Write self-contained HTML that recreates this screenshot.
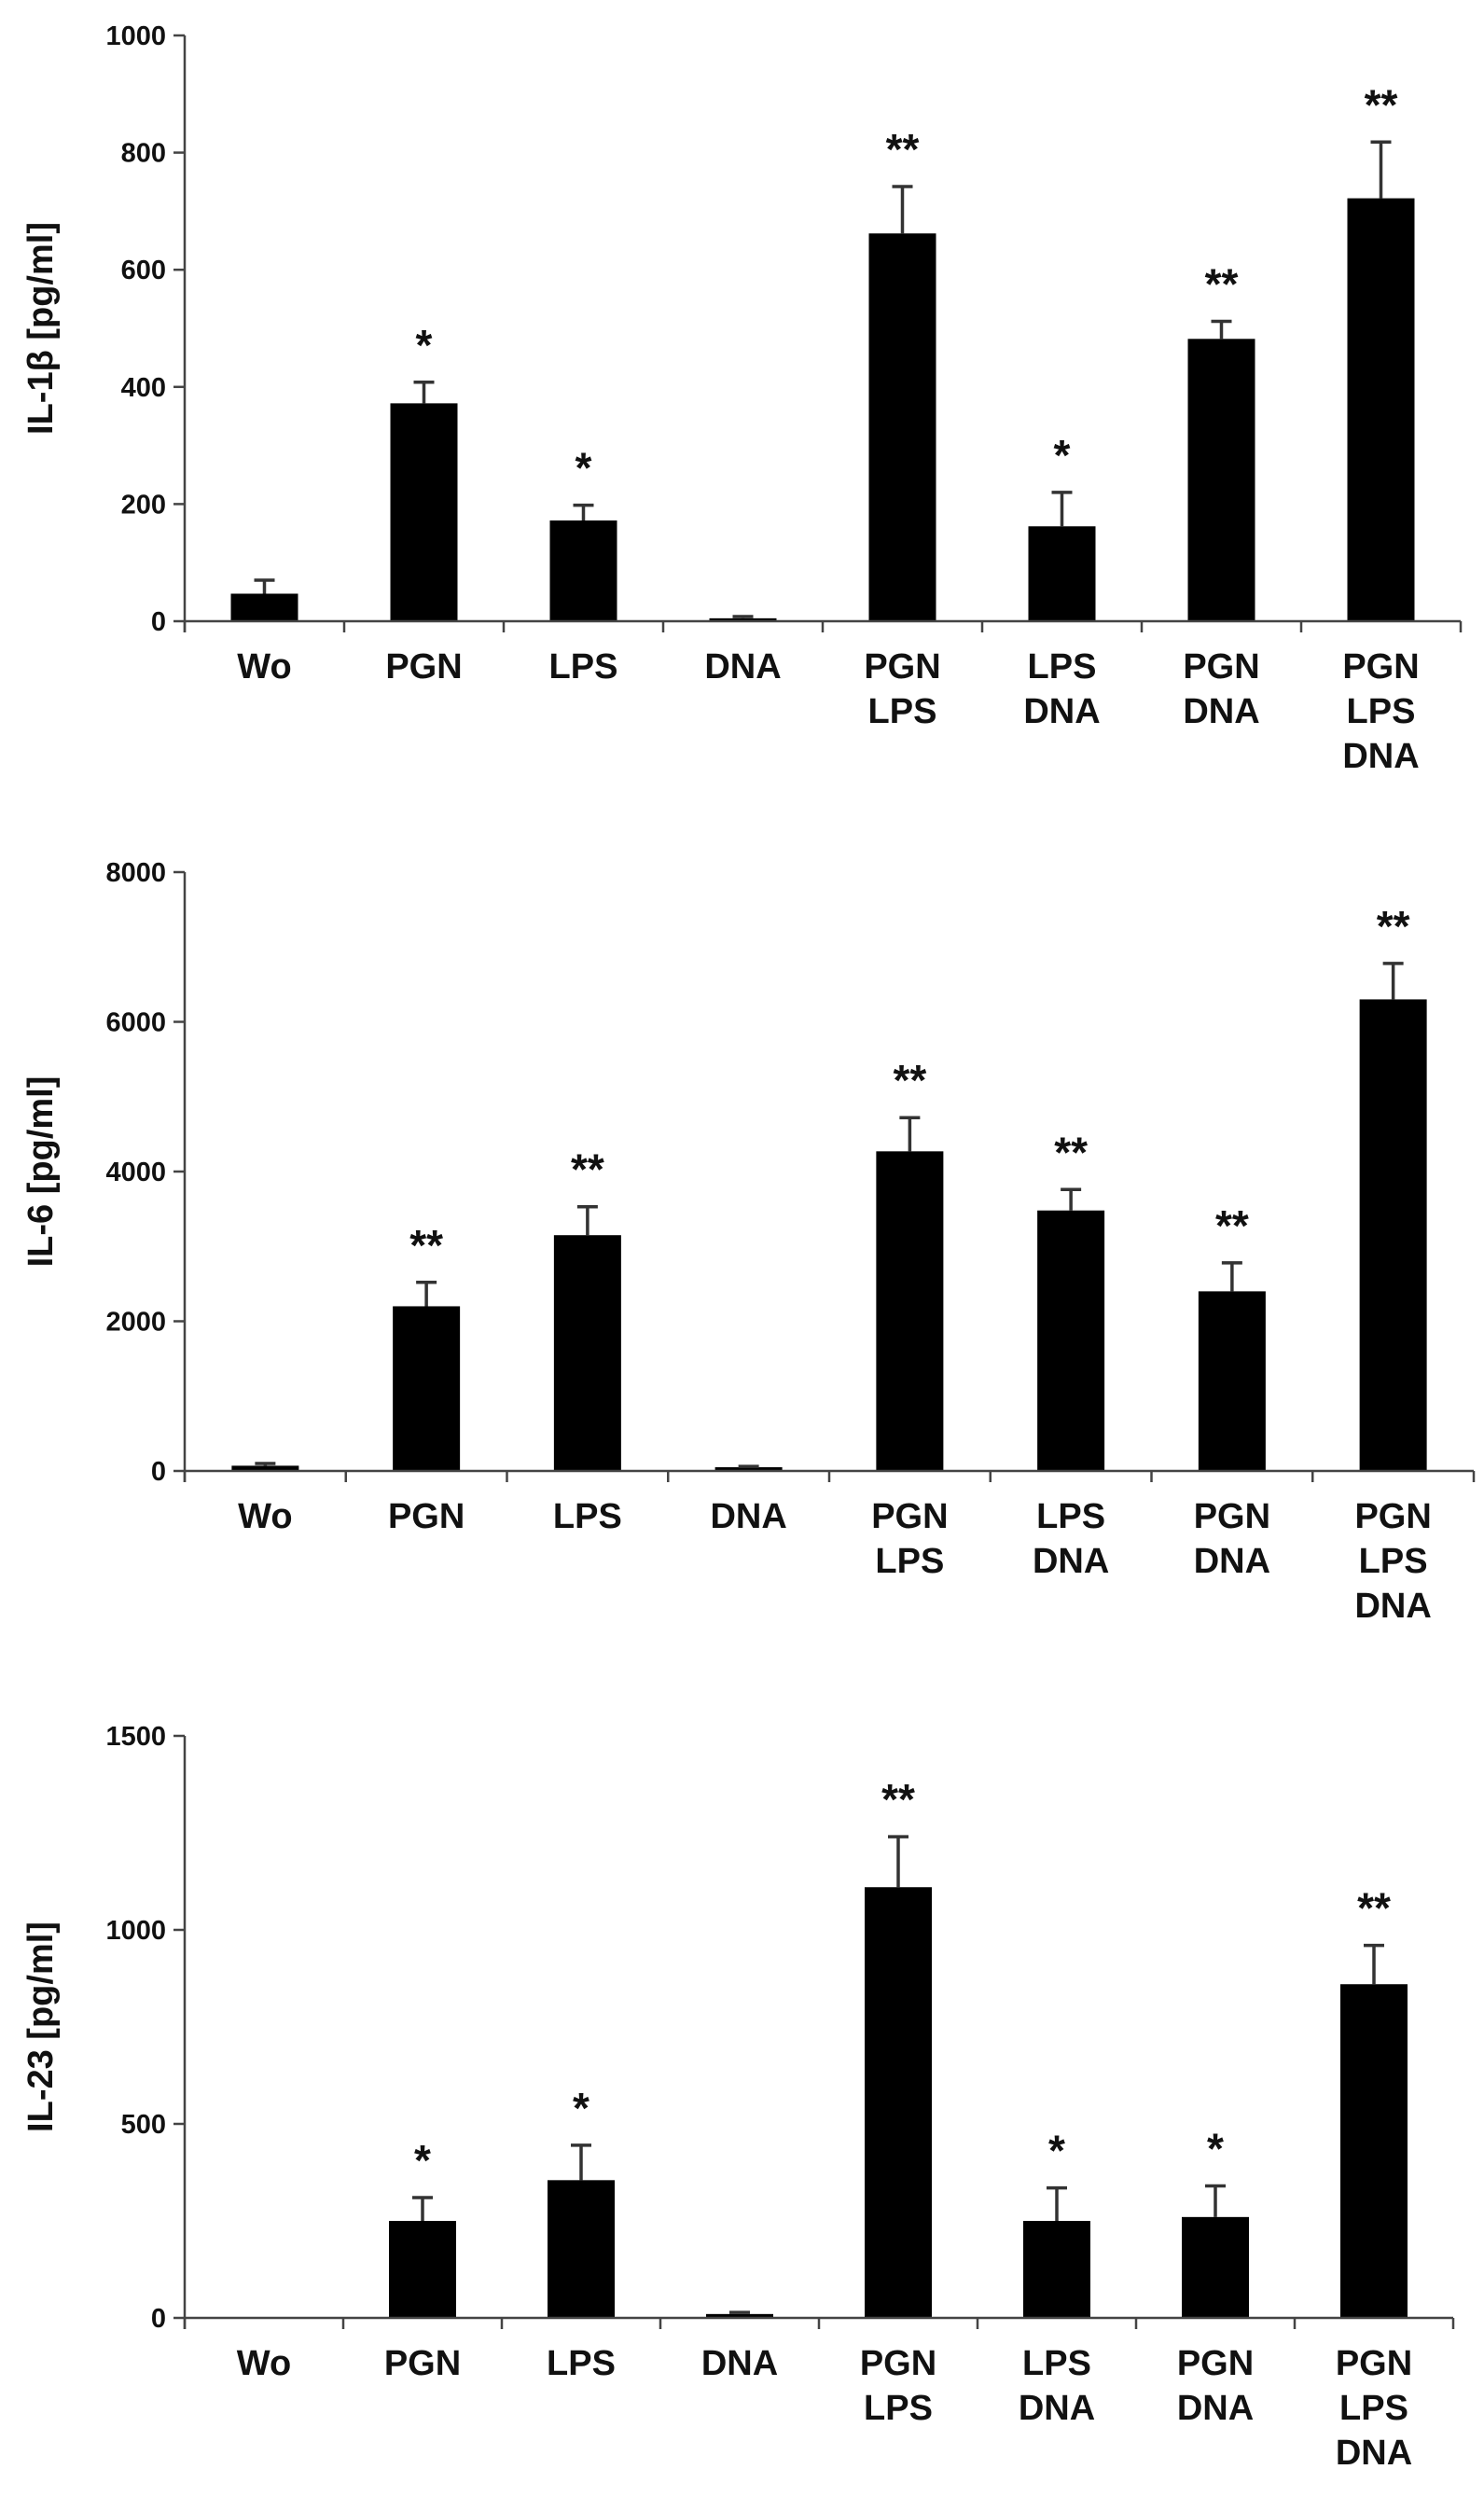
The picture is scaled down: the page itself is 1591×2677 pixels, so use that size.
<!DOCTYPE html>
<html><head><meta charset="utf-8"><style>
html,body{margin:0;padding:0;background:#fff;}
svg{display:block;}
text{font-family:"Liberation Sans",Arial,sans-serif;font-weight:bold;fill:#111;}
</style></head>
<body>
<svg id="fig" width="1591" height="2677" viewBox="0 0 1591 2677" xmlns="http://www.w3.org/2000/svg"></svg>
<script>
const categories = [["Wo"],["PGN"],["LPS"],["DNA"],["PGN","LPS"],["LPS","DNA"],["PGN","DNA"],["PGN","LPS","DNA"]];
const il1bValues = [47,372,172,5,662,162,482,722];
const il1bErrors = [70,408,198,8,742,220,512,818];
const il1bStars = ["","*","*","","**","*","**","**"];
const il1bTicks = [0,200,400,600,800,1000];
const il6Values = [70,2200,3150,50,4270,3480,2400,6300];
const il6Errors = [100,2520,3530,60,4720,3760,2780,6780];
const il6Stars = ["","**","**","","**","**","**","**"];
const il6Ticks = [0,2000,4000,6000,8000];
const il23Values = [0,250,355,10,1110,250,260,860];
const il23Errors = [0,310,445,14,1240,335,340,960];
const il23Stars = ["","*","*","","**","*","*","**"];
const il23Ticks = [0,500,1000,1500];

const svg = document.getElementById('fig');
const NS = 'http://www.w3.org/2000/svg';
function mk(tag, attrs, parent){
  const e = document.createElementNS(NS, tag);
  for (const k in attrs) e.setAttribute(k, attrs[k]);
  (parent||svg).appendChild(e);
  return e;
}

function chart(cfg){
  const g = mk('g', {});
  
  
  const max = cfg.ticks[cfg.ticks.length-1];
  const y = v => cfg.y0 - (v/max)*(cfg.y0-cfg.yTop);
  const band = (cfg.x1-cfg.x0)/categories.length;
  const x = i => cfg.x0 + band*(i+0.5);
  const ya = mk('line', {x1:cfg.x0,y1:cfg.yTop,x2:cfg.x0,y2:cfg.y0+12,stroke:'#444','stroke-width':2.5}, g);
  
  
  cfg.ticks.forEach(t=>{
    mk('line', {x1:cfg.x0-12,y1:y(t),x2:cfg.x0,y2:y(t),stroke:'#444','stroke-width':2.5}, g);
    const tl = mk('text', {x:cfg.x0-20,y:y(t)+10,'text-anchor':'end','font-size':29}, g);
    tl.textContent = t;
    
    
  });
  const yt = mk('text', {x:0,y:0,'text-anchor':'middle','font-size':38,transform:`translate(56,${(cfg.y0+cfg.yTop)/2}) rotate(-90)`}, g);
  yt.textContent = cfg.title;
  
  
  const bw = 72;
  cfg.values.forEach((v,i)=>{
    const b = mk('rect', {x:x(i)-bw/2,y:y(v),width:bw,height:Math.max(0,cfg.y0-y(v)),fill:'#000'}, g);
    
    
    const e = cfg.errs[i];
    if (e > v) {
      const eb = mk('path', {d:`M${x(i)} ${y(v)} V${y(e)} M${x(i)-11} ${y(e)} H${x(i)+11}`,stroke:'#333','stroke-width':3.5,fill:'none'}, g);
      
      
    }
    if (cfg.stars[i]) {
      const s = mk('text', {x:x(i),y:y(e)-24,'text-anchor':'middle','font-size':46}, g);
      s.textContent = cfg.stars[i];
      
      
    }
  });
  const xa = mk('line', {x1:cfg.x0,y1:cfg.y0,x2:cfg.x1,y2:cfg.y0,stroke:'#444','stroke-width':2.5}, g);
  
  
  for (let i=0;i<=categories.length;i++){
    const tx = cfg.x0 + band*i;
    mk('line', {x1:tx,y1:cfg.y0,x2:tx,y2:cfg.y0+12,stroke:'#444','stroke-width':2.5}, g);
  }
  categories.forEach((c,i)=>{
    c.forEach((line,j)=>{
      const t = mk('text', {x:x(i),y:cfg.y0+61+j*48,'text-anchor':'middle','font-size':38}, g);
      t.textContent = line;
      
      
    });
  });
}

chart({name:'il-1b-chart',title:'IL-1β [pg/ml]',x0:198,x1:1566,yTop:38,y0:666,ticks:il1bTicks,values:il1bValues,errs:il1bErrors,stars:il1bStars});
chart({name:'il-6-chart',title:'IL-6 [pg/ml]',x0:198,x1:1580,yTop:935,y0:1577,ticks:il6Ticks,values:il6Values,errs:il6Errors,stars:il6Stars});
chart({name:'il-23-chart',title:'IL-23 [pg/ml]',x0:198,x1:1558,yTop:1861,y0:2485,ticks:il23Ticks,values:il23Values,errs:il23Errors,stars:il23Stars});
</script>
</body></html>
